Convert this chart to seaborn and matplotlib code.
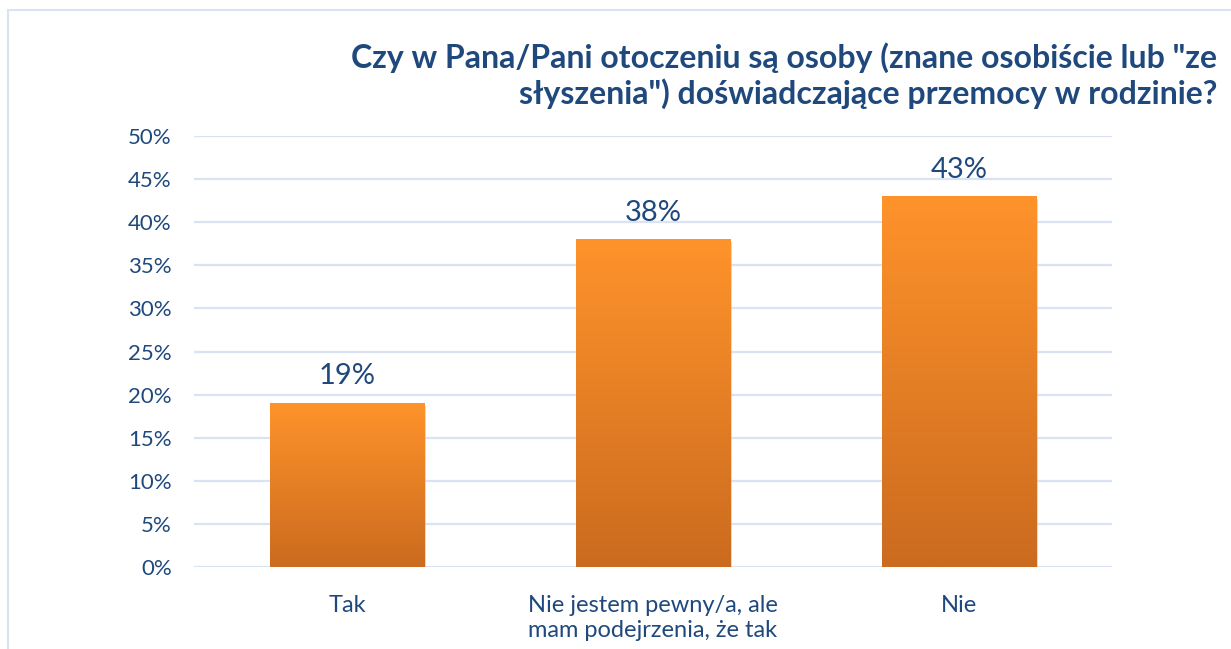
import numpy as np
import pandas as pd
import matplotlib
matplotlib.use("Agg")
import matplotlib.pyplot as plt
from matplotlib.lines import Line2D
from matplotlib.patches import Rectangle
import seaborn as sns

categories = ["Tak", "Nie jestem pewny/a, ale\nmam podejrzenia, że tak", "Nie"]
values = [19, 38, 43]
yticks = [0, 5, 10, 15, 20, 25, 30, 35, 40, 45, 50]
title = 'Czy w Pana/Pani otoczeniu są osoby (znane osobiście lub "ze\nsłyszenia") doświadczające przemocy w rodzinie?'

navy = "#1F497D"
grid_col = "#D9E3F3"

sns.set_style("white")
plt.rcParams["font.family"] = ["Lato", "DejaVu Sans"]

df = pd.DataFrame({"cat": categories, "val": values})

fig = plt.figure(figsize=(12.31, 6.49), dpi=100)
ax = fig.add_axes([0.1576, 0.1263, 0.7457, 0.6641])

sns.barplot(data=df, x="cat", y="val", color="#F28C28", width=0.505, ax=ax, zorder=3)

ax.set_ylim(0, 50)
ax.set_yticks(yticks)
ax.set_yticklabels([f"{t}%" for t in yticks], fontsize=16, color=navy)
ax.tick_params(axis="x", labelsize=17, labelcolor=navy, length=0, pad=20)
ax.tick_params(axis="y", length=0, pad=16)
for lab in ax.get_xticklabels():
    lab.set_linespacing(1.25)
ax.set_xlabel("")
ax.set_ylabel("")
for s in ax.spines.values():
    s.set_visible(False)
ax.yaxis.grid(True, color=grid_col, linewidth=1.6, zorder=0)
ax.set_axisbelow(True)

# gradient fill + soft shadow on bars
grad = np.linspace(0, 1, 256).reshape(-1, 1)
cmap = matplotlib.colors.LinearSegmentedColormap.from_list("og", ["#CB6B1F", "#FF932B"])
for bar in ax.patches:
    x0, w, h = bar.get_x(), bar.get_width(), bar.get_height()
    sh = Rectangle((x0 + 0.006, -0.3), w, h, facecolor="#B8B8B8", edgecolor="none",
                   alpha=0.5, zorder=2)
    ax.add_patch(sh)
    bar.set_edgecolor("none")
    im = ax.imshow(grad, extent=(x0, x0 + w, 0, h), origin="lower", cmap=cmap,
                   aspect="auto", zorder=4)
    im.set_clip_path(bar)
    ax.text(x0 + w / 2, h + 1.6, f"{h:.0f}%", ha="center", va="bottom",
            fontsize=21, color=navy, zorder=5)

ax.set_xlim(-0.5, 2.5)
ax.set_ylim(0, 50)

fig.text(0.989, 0.935, title, ha="right", va="top", fontsize=23,
         fontweight="bold", color=navy, linespacing=1.22)

# outer chart frame
fig.add_artist(Line2D([8 / 1231, 8 / 1231], [0, 1 - 10 / 649], transform=fig.transFigure,
                      color=grid_col, linewidth=1.5))
fig.add_artist(Line2D([8 / 1231, 1], [1 - 10 / 649, 1 - 10 / 649], transform=fig.transFigure,
                      color=grid_col, linewidth=1.5))

fig.savefig("out.png", dpi=100)
